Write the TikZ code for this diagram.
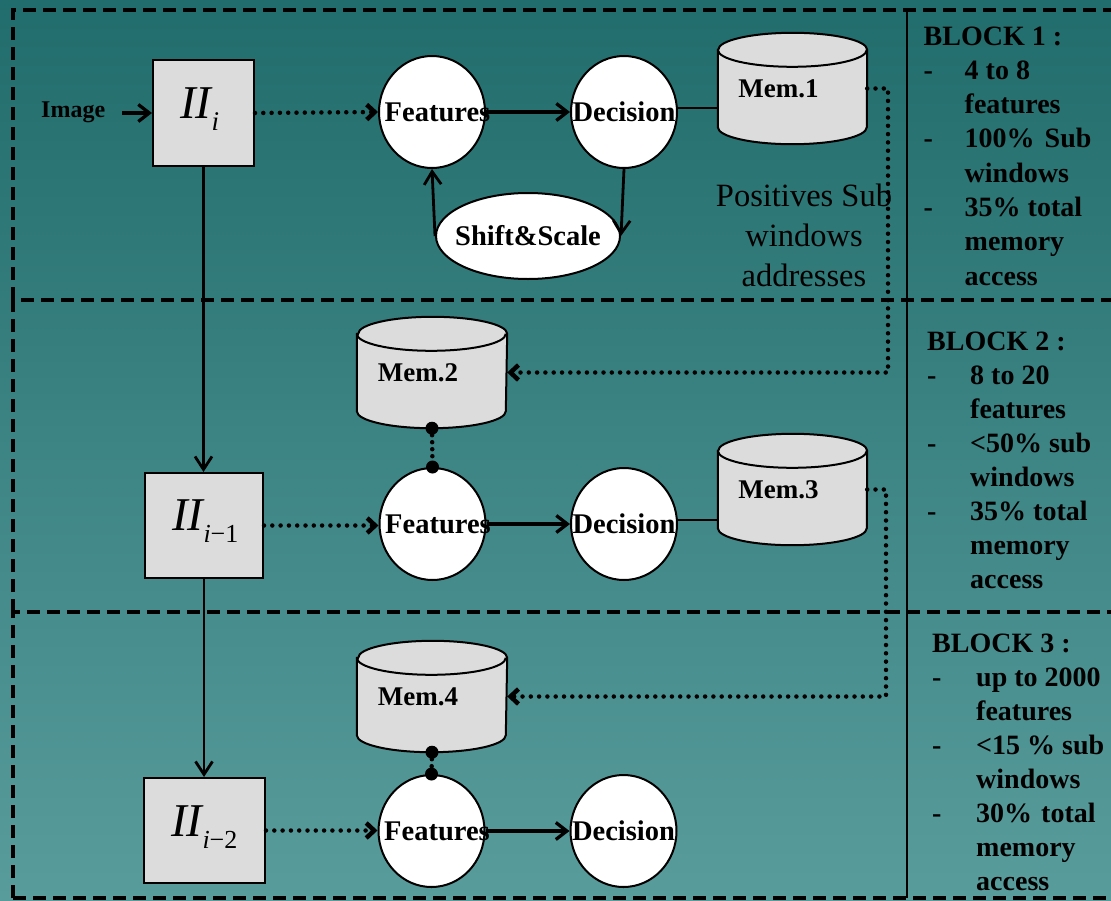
\documentclass[tikz,border=0pt]{standalone}
\usepackage{fontspec}
\setmainfont{Liberation Serif}
\usetikzlibrary{shapes.geometric,arrows.meta}

\definecolor{tealtop}{RGB}{33,108,108}
\definecolor{tealbot}{RGB}{89,156,156}
\definecolor{boxgray}{RGB}{220,220,220}

% half width of a memory cylinder and depth of its end caps
\def\cylrx{74.5pt}
\def\cylry{17pt}

% memory cylinder drawn around an (invisible) rectangular node
\newcommand\cylbody[1]{%
  \filldraw[cylline] ([yshift=-\cylry]#1.north west) -- ([yshift=\cylry]#1.south west)
    arc[start angle=180,end angle=360,x radius=\cylrx,y radius=\cylry]
    -- ([yshift=-\cylry]#1.north east)
    arc[start angle=0,end angle=180,x radius=\cylrx,y radius=\cylry] -- cycle;
  \draw[cylline,fill=none] ([yshift=-\cylry]#1.north west)
    arc[start angle=180,end angle=360,x radius=\cylrx,y radius=\cylry];}

% list entries of the right-hand column
\newcommand\coldash[2]{\makebox[#1][l]{-}#2}
\newcommand\colgap[2]{\hspace*{#1}#2}

\tikzset{
  blockdash/.style={line width=3.5pt, dash pattern=on 13pt off 7pt},
  iibox/.style={draw, fill=boxgray, line width=2pt, inner sep=0pt},
  iilabel/.style={inner sep=0pt, anchor=base west},
  roundnode/.style={ellipse, draw, fill=white, line width=2pt, inner sep=0pt,
    minimum width=106pt, minimum height=112pt, font=\fontsize{28.5}{28.5}\selectfont\bfseries},
  memnode/.style={rectangle, inner sep=0pt, minimum width=149pt, minimum height=111pt},
  cylline/.style={draw, fill=boxgray, line width=2pt},
  memlabel/.style={font=\fontsize{27}{27}\selectfont\bfseries, inner sep=0pt},
  flow/.style={line width=3.3pt, -{Straight Barb[length=11pt,width=17pt]}},
  feed/.style={line width=2.8pt, -{Straight Barb[length=13pt,width=17pt]}},
  dotflow/.style={line width=4.5pt, dash pattern=on 0pt off 8.3pt, line cap=round,
    -{Straight Barb[length=8pt,width=15pt]}},
  dotlink/.style={line width=4.5pt, dash pattern=on 0pt off 7pt, line cap=round},
  thinlink/.style={line width=1.6pt},
  coltext/.style={anchor=base west, inner sep=0pt, font=\fontsize{28}{28}\selectfont\bfseries},
}

\begin{document}
\begin{tikzpicture}[x=1pt, y=-1pt]
\useasboundingbox (0,0) rectangle (1111,900);
\fill[top color=tealtop, bottom color=tealbot] (0,0) rectangle (1111,900);

% block frames
\draw[blockdash] (13,300) -- (13,10) -- (1111,10);
\draw[blockdash] (13,612) -- (13,300) -- (1111,300);
\draw[blockdash] (13,898) -- (13,612) -- (1111,612);
\draw[blockdash] (13,898) -- (1111,898);
\draw[line width=2pt] (907,10) -- (907,898);

% ---------- block 1 ----------
\node[font=\fontsize{24}{24}\selectfont\bfseries, inner sep=0pt, anchor=base west] (img) at (41,117) {Image};
\node[iibox, minimum width=101pt, minimum height=106pt] (ii1) at (203.5,113) {};
\node[iilabel] (ii1t) at (180,118) {{\fontsize{47}{47}\selectfont\itshape II}\raisebox{-12pt}{\fontsize{27}{27}\selectfont\itshape i}};
\node[roundnode] (feat1) at (432,112) {\makebox[0pt]{\hspace*{11pt}Features}};
\node[roundnode] (dec1) at (624,112) {\makebox[0pt]{Decision}};
\node[ellipse, draw, fill=white, line width=2pt, inner sep=0pt, minimum width=184pt,
  minimum height=86pt, font=\fontsize{28.5}{28.5}\selectfont\bfseries] (shift) at (528,236)
  {\makebox[0pt]{Shift\&Scale}};
\node[memnode] (mem1) at (792.5,88.5) {};
\cylbody{mem1}
\node[memlabel] (mem1t) at (mem1.center) {Mem.1\hspace*{28pt}};
\node[font=\fontsize{32.5}{40}\selectfont, align=center, inner sep=0pt, text=black] (pos)
  at (804,235) {Positives Sub\\windows\\addresses};

\draw[flow, shorten <=17pt] (img.east |- ii1.west) -- (ii1.west);
\draw[dotflow] (ii1.east) -- (feat1.west);
\draw[flow] (feat1.east) -- (dec1.west);
\coordinate (d1m) at ([yshift=4pt]dec1.east);
\draw[thinlink] (d1m) -- (d1m -| mem1.west);
\draw[feed] (dec1.south) -- (shift.east);
\draw[feed] (shift.west) -- (feat1.south);

% ---------- block 2 ----------
\node[iibox, minimum width=118pt, minimum height=105pt] (ii2) at (204,525.5) {};
\node[iilabel] (ii2t) at (172,530) {{\fontsize{47}{47}\selectfont\itshape II}\raisebox{-12pt}{\fontsize{26}{26}\selectfont\itshape i\upshape −1}};
\node[memnode, minimum width=150pt] (mem2) at (432,372.5) {};
\cylbody{mem2}
\node[memlabel] (mem2t) at (mem2.center) {Mem.2\hspace*{28pt}};
\node[roundnode] (feat2) at (432.5,524) {\makebox[0pt]{\hspace*{11pt}Features}};
\node[roundnode] (dec2) at (624,524) {\makebox[0pt]{Decision}};
\node[memnode] (mem3) at (792.5,489.5) {};
\cylbody{mem3}
\node[memlabel] (mem3t) at (mem3.center) {Mem.3\hspace*{28pt}};

\draw[feed] (ii1.south) -- (ii1.south |- ii2.north);
\draw[dotflow] (ii2.east) -- (ii2.east -| feat2.west);
\draw[flow] (feat2.east) -- (dec2.west);
\coordinate (d2m) at ([yshift=4pt]dec2.east);
\draw[thinlink] (d2m) -- (d2m -| mem3.west);
\draw[dotlink] (mem2.south) -- (feat2.north);
\fill (mem2.south) circle[radius=6.5pt];
\fill (feat2.north) circle[radius=6.5pt];

% ---------- block 3 ----------
\node[iibox, minimum width=121pt, minimum height=105pt] (ii3) at (204.5,830.5) {};
\node[iilabel] (ii3t) at (171,836) {{\fontsize{47}{47}\selectfont\itshape II}\raisebox{-12pt}{\fontsize{26}{26}\selectfont\itshape i\upshape −2}};
\node[memnode, minimum width=150pt] (mem4) at (432,696.5) {};
\cylbody{mem4}
\node[memlabel] (mem4t) at (mem4.center) {Mem.4\hspace*{28pt}};
\node[roundnode] (feat3) at (431.5,831) {\makebox[0pt]{\hspace*{11pt}Features}};
\node[roundnode] (dec3) at (623.5,831) {\makebox[0pt]{Decision}};

\draw[feed] (ii2.south) -- (ii2.south |- ii3.north);
\draw[dotflow] (ii3.east) -- (ii3.east -| feat3.west);
\draw[flow] (feat3.east) -- (dec3.west);
\draw[dotlink] (mem4.south) -- (feat3.north);
\fill (mem4.south) circle[radius=6.5pt];
\fill (feat3.north) circle[radius=6.5pt];

% positive sub-window addresses passed on to the next memory
\coordinate (bus1) at (888,0);
\coordinate (bus2) at (886,0);
\draw[dotflow] (mem1.east) -- (mem1.east -| bus1) -- (bus1 |- mem2.east) -- (mem2.east);
\draw[dotflow] (mem3.east) -- (mem3.east -| bus2) -- (bus2 |- mem4.east) -- (mem4.east);

% ---------- right-hand column ----------
\foreach \rowtext [count=\k from 0] in {BLOCK 1 :, \coldash{41pt}{4 to 8}, \colgap{41pt}{features},
    \coldash{41pt}{100\%\hspace{10pt}Sub}, \colgap{41pt}{windows}, \coldash{41pt}{35\% total},
    \colgap{41pt}{memory}, \colgap{41pt}{access}}
  \node[coltext] (blk1-\k) at (923.5,{45+34.3*\k}) {\rowtext};
\foreach \rowtext [count=\k from 0] in {BLOCK 2 :, \coldash{43pt}{8 to 20}, \colgap{43pt}{features},
    \coldash{43pt}{<50\% sub}, \colgap{43pt}{windows}, \coldash{43pt}{35\% total},
    \colgap{43pt}{memory}, \colgap{43pt}{access}}
  \node[coltext] (blk2-\k) at (927,{350+34*\k}) {\rowtext};
\foreach \rowtext [count=\k from 0] in {BLOCK 3 :, \coldash{44pt}{up to 2000}, \colgap{44pt}{features},
    \coldash{44pt}{<15 \% sub}, \colgap{44pt}{windows}, \coldash{44pt}{30\%\hspace{9pt}total},
    \colgap{44pt}{memory}, \colgap{44pt}{access}}
  \node[coltext] (blk3-\k) at (932,{652+34*\k}) {\rowtext};
\end{tikzpicture}
\end{document}
